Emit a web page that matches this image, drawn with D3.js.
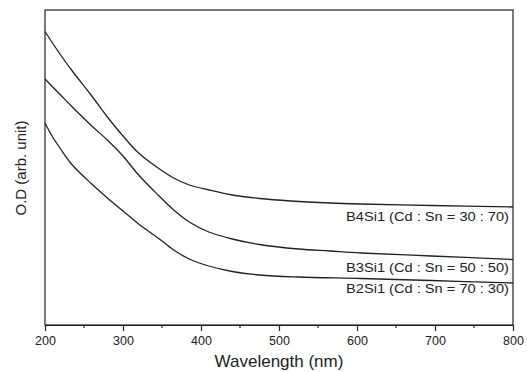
<!DOCTYPE html>
<html>
<head>
<meta charset="utf-8">
<script src="https://cdn.jsdelivr.net/npm/d3@7"></script>
<style>
  body { margin: 0; background: #fff; }
  svg { display: block; font-family: "Liberation Sans", Arial, sans-serif; }
</style>
</head>
<body>
<svg id="chart" width="527" height="372"></svg>
<script>
// wavelength (nm) and optical density (arb. unit)
var wlB4 = [200, 220, 235, 260, 280, 300, 320, 345, 365, 385, 410, 440, 475, 515, 565, 605, 695, 800];
var odB4 = [2.935, 2.70, 2.54, 2.29, 2.08, 1.89, 1.72, 1.57, 1.47, 1.40, 1.35, 1.30, 1.265, 1.24, 1.22, 1.21, 1.195, 1.18];

var wlB3 = [200, 220, 235, 260, 280, 300, 320, 345, 365, 385, 410, 440, 475, 525, 565, 605, 695, 800];
var odB3 = [2.46, 2.30, 2.18, 1.99, 1.85, 1.69, 1.50, 1.30, 1.15, 1.03, 0.93, 0.86, 0.805, 0.76, 0.74, 0.72, 0.69, 0.655];

var wlB2 = [200, 209, 220, 235, 260, 280, 300, 320, 345, 365, 385, 410, 440, 475, 525, 605, 695, 800];
var odB2 = [2.02, 1.89, 1.76, 1.60, 1.41, 1.27, 1.14, 1.01, 0.87, 0.75, 0.66, 0.59, 0.535, 0.50, 0.48, 0.465, 0.445, 0.42];

var seriesNames = ["B4Si1 (Cd : Sn = 30 : 70)", "B3Si1 (Cd : Sn = 50 : 50)", "B2Si1 (Cd : Sn = 70 : 30)"];
var xTicks = [200, 300, 400, 500, 600, 700, 800];

var svg = d3.select("#chart");
// note: "top" is taken by window.top, so use other names
var mLeft = 45, mRight = 513, mTop = 10, mBottom = 325;

var x = d3.scaleLinear().domain([200, 800]).range([mLeft, mRight]);
var y = d3.scaleLinear().domain([0, 3.15]).range([mBottom, mTop]);

// frame
svg.append("rect")
    .attr("x", mLeft).attr("y", mTop)
    .attr("width", mRight - mLeft).attr("height", mBottom - mTop)
    .attr("fill", "none").attr("stroke", "#222").attr("stroke-width", 1.2);

// minor ticks
var minor = d3.range(250, 800, 100);
svg.append("g").selectAll("line")
    .data(minor).enter().append("line")
    .attr("x1", function(d) { return x(d); }).attr("x2", function(d) { return x(d); })
    .attr("y1", mBottom).attr("y2", mBottom + 3)
    .attr("stroke", "#222").attr("stroke-width", 1.2);

var xAxis = svg.append("g")
    .attr("transform", "translate(0," + mBottom + ")")
    .call(d3.axisBottom(x).tickValues(xTicks).tickSize(6).tickSizeOuter(0).tickPadding(5));
xAxis.select(".domain").attr("stroke", "#222").attr("stroke-width", 1.2);
xAxis.selectAll(".tick line").attr("stroke", "#222").attr("stroke-width", 1.2);
xAxis.selectAll("text").attr("font-size", 12.5).attr("fill", "#222")
    .attr("font-family", "Liberation Sans, Arial, sans-serif");

var line = d3.line()
    .x(function(d) { return x(d[0]); })
    .y(function(d) { return y(d[1]); })
    .curve(d3.curveCatmullRom.alpha(0.5));

var curves = [d3.zip(wlB4, odB4), d3.zip(wlB3, odB3), d3.zip(wlB2, odB2)];
svg.append("g").selectAll("path")
    .data(curves).enter().append("path")
    .attr("d", line)
    .attr("fill", "none").attr("stroke", "#222").attr("stroke-width", 1.3);

// curve labels (the original text is drawn a bit wide)
var labelY = [221, 272, 293];
svg.append("g").selectAll("text")
    .data(seriesNames).enter().append("text")
    .attr("x", 509)
    .attr("y", function(d, i) { return labelY[i]; })
    .attr("text-anchor", "end")
    .attr("font-size", 12)
    .attr("textLength", 163)
    .attr("lengthAdjust", "spacingAndGlyphs")
    .attr("fill", "#222")
    .text(function(d) { return d; });

// axis titles
svg.append("text")
    .attr("x", (mLeft + mRight) / 2).attr("y", 367)
    .attr("text-anchor", "middle")
    .attr("font-size", 17).attr("fill", "#222")
    .text("Wavelength (nm)");

svg.append("text")
    .attr("transform", "translate(26,168) rotate(-90)")
    .attr("text-anchor", "middle")
    .attr("font-size", 15).attr("fill", "#222")
    .text("O.D (arb. unit)");
</script>
</body>
</html>
